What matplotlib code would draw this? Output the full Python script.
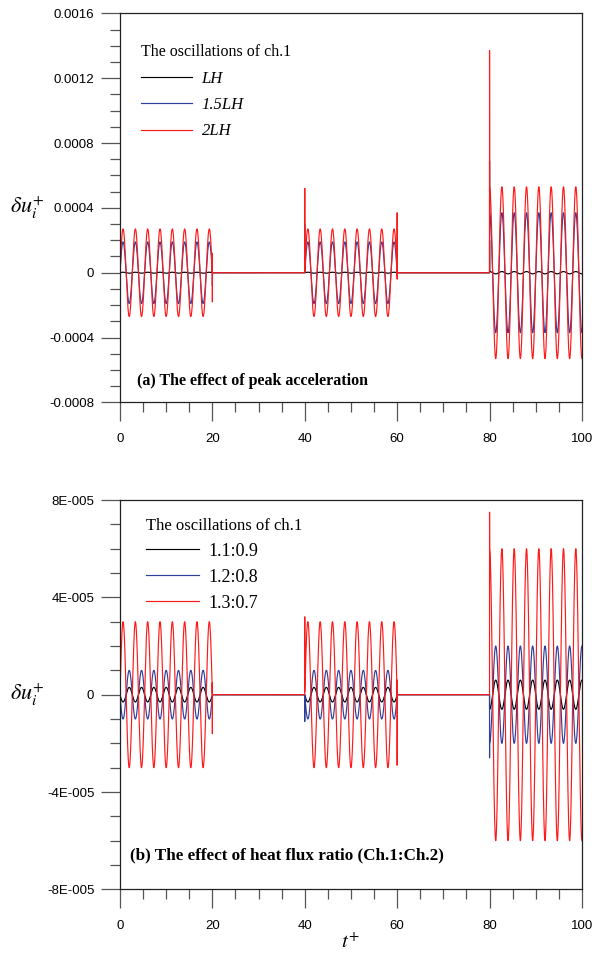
import numpy as np
import matplotlib
matplotlib.use("Agg")
import matplotlib.pyplot as plt
from matplotlib.ticker import FixedLocator, FixedFormatter, MultipleLocator

plt.rcParams["mathtext.fontset"] = "stix"

# forcing bursts: start time, length, cycles per burst, phase at start (deg)
burst_start = [0.0, 40.0, 80.0]
burst_len = 20.0
cycles_per_burst = 7.5
burst_phase_deg = [0.0, 0.0, 90.0]

# (a) peak acceleration cases: amplitude of du_i+ in each burst
labels_a = ["LH", "1.5LH", "2LH"]
amp_a_lh = [0.000003, 0.000003, 0.000007]
amp_a_15lh = [0.00019, 0.00019, 0.00037]
amp_a_2lh = [0.00027, 0.00027, 0.00053]
# start/stop transients: (time, excursion values)
spike_a_lh = [(80.0, [0.0002])]
spike_a_15lh = [(20.0, [0.00005, -0.00008]), (40.0, [0.0003]),
                (60.0, [0.0002, -0.00002]), (80.0, [0.00069])]
spike_a_2lh = [(20.0, [0.00012, -0.00018]), (40.0, [0.00052]),
               (60.0, [0.00037, -0.00004]), (80.0, [0.00137])]

# (b) heat flux ratio cases
labels_b = ["1.1:0.9", "1.2:0.8", "1.3:0.7"]
amp_b_11 = [-3e-6, -3e-6, -6e-6]
amp_b_12 = [-1e-5, -1e-5, -2e-5]
amp_b_13 = [3e-5, 3e-5, 6e-5]
spike_b_11 = []
spike_b_12 = [(20.0, [0.5e-5]), (40.0, [-1.1e-5]), (80.0, [-2.6e-5])]
spike_b_13 = [(20.0, [0.45e-5, -1.6e-5]), (40.0, [3.2e-5]),
              (60.0, [0.6e-5, -2.9e-5]), (80.0, [7.5e-5])]

yticks_a = [0.0016, 0.0012, 0.0008, 0.0004, 0.0, -0.0004, -0.0008]
yticklabels_a = ["0.0016", "0.0012", "0.0008", "0.0004", "0", "-0.0004", "-0.0008"]
yticks_b = [8e-5, 4e-5, 0.0, -4e-5, -8e-5]
yticklabels_b = ["8E-005", "4E-005", "0", "-4E-005", "-8E-005"]
xticks = [0, 20, 40, 60, 80, 100]

colors = ["#000000", "#2d3f9c", "#ff1a1a"]


def build_series(amps, spikes, n=20001):
    t = np.linspace(0.0, 100.0, n)
    y = np.zeros_like(t)
    period = burst_len / cycles_per_burst
    for s, a, ph in zip(burst_start, amps, burst_phase_deg):
        m = (t >= s - 1e-9) & (t <= s + burst_len + 1e-9)
        y[m] = a * np.sin(2 * np.pi * (t[m] - s) / period + np.radians(ph))
    # vertical excursions at switch-on / switch-off
    for ts, vals in sorted(spikes, key=lambda p: p[0], reverse=True):
        i = int(np.searchsorted(t, ts - 1e-9))
        t = np.insert(t, i, [ts] * len(vals))
        y = np.insert(y, i, vals)
    return t, y


def style_axes(ax, yticks, yticklabels, ylim, yminor):
    ax.set_xlim(0, 100)
    ax.set_ylim(*ylim)
    ax.xaxis.set_major_locator(FixedLocator(xticks))
    ax.xaxis.set_minor_locator(MultipleLocator(5))
    ax.yaxis.set_major_locator(FixedLocator(yticks))
    ax.yaxis.set_major_formatter(FixedFormatter(yticklabels))
    ax.yaxis.set_minor_locator(MultipleLocator(yminor))
    ax.tick_params(which="both", direction="out", top=False, right=False,
                   color="#555555", width=0.9, labelsize=9.5)
    ax.tick_params(axis="y", which="major", length=13.5, pad=5)
    ax.tick_params(axis="x", which="major", length=14, pad=8)
    ax.tick_params(which="minor", length=7)
    for sp in ax.spines.values():
        sp.set_linewidth(0.9)
        sp.set_color("#222222")
    for lab in ax.get_xticklabels() + ax.get_yticklabels():
        lab.set_fontfamily("Liberation Sans")
    ax.set_ylabel(r"$\delta u_i^{+}$", rotation=0, fontsize=16, labelpad=0)
    ax.yaxis.set_label_coords(-0.2, 0.5)
    ax.yaxis.label.set_va("center")
    ax.yaxis.label.set_ha("center")


fig = plt.figure(figsize=(6.05, 9.57), dpi=100)
ax_a = fig.add_axes([0.1983, 0.5795, 0.7636, 0.4066])
ax_b = fig.add_axes([0.1983, 0.0707, 0.7636, 0.4068])

serif = "Liberation Serif"

# panel (a)
series_a = [(amp_a_lh, spike_a_lh), (amp_a_15lh, spike_a_15lh), (amp_a_2lh, spike_a_2lh)]
for (amps, spikes), lab, c in zip(series_a, labels_a, colors):
    t, y = build_series(amps, spikes)
    ax_a.plot(t, y, color=c, lw=0.85, label=lab)
style_axes(ax_a, yticks_a, yticklabels_a, (-0.0008, 0.0016), 0.0001)
ax_a.legend(loc="upper left", bbox_to_anchor=(0.045, 0.92), frameon=False,
            title="The oscillations of ch.1", alignment="left",
            borderpad=0, borderaxespad=0, handlelength=3.1,
            handletextpad=0.55, labelspacing=0.62,
            prop={"family": serif, "size": 12, "style": "italic"},
            title_fontproperties={"family": serif, "size": 11.5})
ax_a.text(0.037, 0.055, "(a) The effect of peak acceleration", transform=ax_a.transAxes,
          fontfamily=serif, fontweight="bold", fontsize=11.5, va="center", ha="left")

# panel (b)
series_b = [(amp_b_11, spike_b_11), (amp_b_12, spike_b_12), (amp_b_13, spike_b_13)]
for (amps, spikes), lab, c in zip(series_b, labels_b, colors):
    t, y = build_series(amps, spikes)
    ax_b.plot(t, y, color=c, lw=0.85, label=lab)
style_axes(ax_b, yticks_b, yticklabels_b, (-8e-5, 8e-5), 1e-5)
ax_b.legend(loc="upper left", bbox_to_anchor=(0.057, 0.955), frameon=False,
            title="The oscillations of ch.1", alignment="left",
            borderpad=0, borderaxespad=0, handlelength=2.9,
            handletextpad=0.55, labelspacing=0.5,
            prop={"family": serif, "size": 13},
            title_fontproperties={"family": serif, "size": 12})
ax_b.text(0.022, 0.088, "(b) The effect of heat flux ratio (Ch.1:Ch.2)",
          transform=ax_b.transAxes, fontfamily=serif, fontweight="bold",
          fontsize=12.3, va="center", ha="left")
ax_b.set_xlabel(r"$t^{+}$", fontsize=15, labelpad=0)

fig.savefig("out.png", dpi=100)
